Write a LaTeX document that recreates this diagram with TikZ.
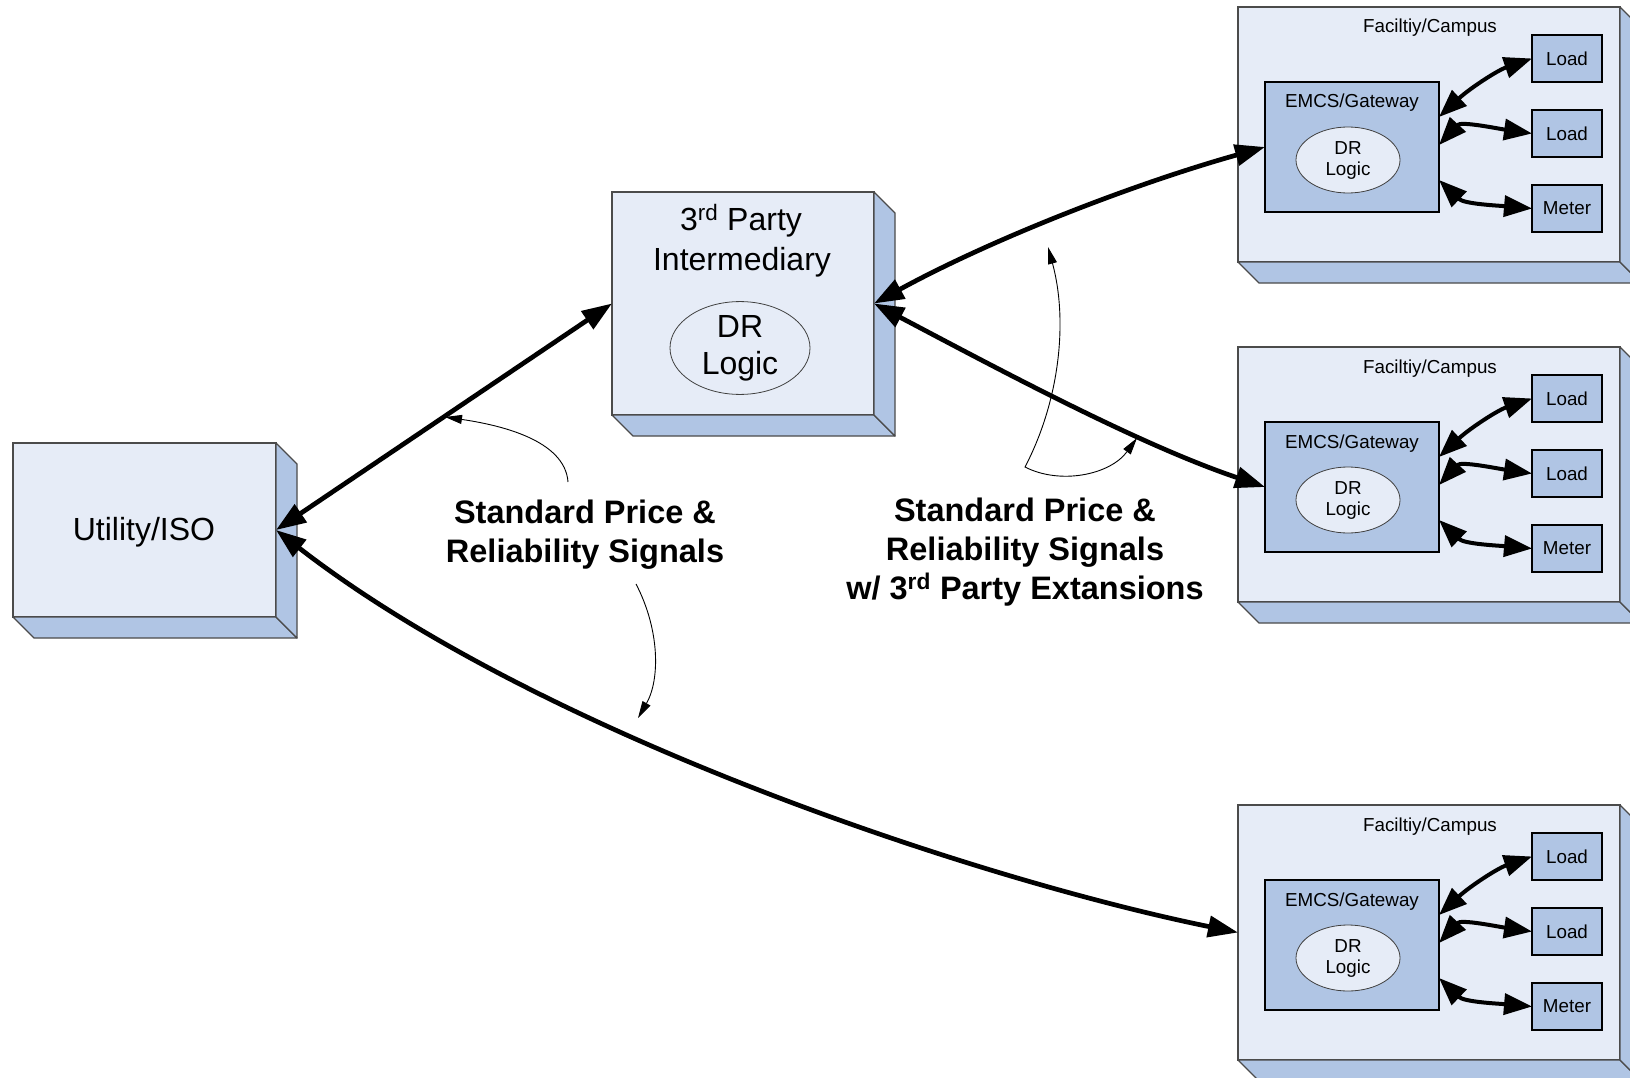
\documentclass[tikz,border=0pt]{standalone}
\usepackage{fontspec}
\setmainfont{Liberation Sans}
\usetikzlibrary{arrows.meta,calc,shapes.geometric}
\definecolor{frontc}{RGB}{230,236,247}
\definecolor{sidec}{RGB}{176,197,228}
\definecolor{edgec}{RGB}{75,75,75}
\newcommand{\boxside}[1]{%
  \filldraw[side] (#1.south west) -- (#1.south east) -- ($(#1.south east)+(21,21)$) -- ($(#1.south west)+(21,21)$) -- cycle;
  \filldraw[side] (#1.north east) -- ($(#1.north east)+(21,21)$) -- ($(#1.south east)+(21,21)$) -- (#1.south east) -- cycle;
}
\tikzset{
  face/.style={draw=edgec,line width=1.3pt,fill=frontc,inner sep=0pt,outer sep=0pt},
  side/.style={draw=edgec,line width=1.3pt,fill=sidec,line join=round},
  inbox/.style={draw=black,line width=2.8pt,fill=sidec,inner sep=0pt,outer sep=0pt},
  logic/.style={ellipse,draw=black!75,line width=0.8pt,fill=frontc,inner sep=0pt,align=center},
  big/.style={font=\fontsize{32}{37}\selectfont},
  small/.style={font=\fontsize{18.8}{21}\selectfont},
  lbl/.style={font=\fontsize{32.5}{39}\selectfont\bfseries},
  mainarr/.style={line width=4.7pt,{Triangle[length=30pt,width=21pt]}-{Triangle[length=30pt,width=21pt]}},
  inarr/.style={line width=4pt,{Triangle[length=28pt,width=21pt]}-{Triangle[length=28pt,width=21pt]}},
  ann/.style={line width=0.9pt,-{Triangle[length=17pt,width=9pt]}},
  annboth/.style={line width=0.9pt,{Triangle[length=17pt,width=9pt]}-{Triangle[length=17pt,width=9pt]}},
}
\begin{document}
\begin{tikzpicture}[x=1pt,y=-1pt]
\useasboundingbox (0,0) rectangle (1630,1078);
\clip (0,0) rectangle (1630,1078);
\fill[white] (0,0) rectangle (1630,1078);

% Utility/ISO
\node[face,minimum width=263pt,minimum height=174pt] (util) at (144.5,530) {};
\boxside{util}
\node[big,anchor=base] (utiltxt) at (144,540) {Utility/ISO};

% 3rd Party Intermediary
\node[face,minimum width=262pt,minimum height=223pt] (tp) at (743,303.5) {};
\boxside{tp}
\node[big,anchor=base] (tpa) at (741,230) {3\textsuperscript{rd} Party};
\node[big,anchor=base] (tpb) at (742,270) {Intermediary};
\node[logic,big,minimum width=140pt,minimum height=90pt] (tplogic) at (740,348) {DR\\Logic};

% Facilities
\foreach \o/\i in {0/1,340/2,798/3}{
  \node[face,minimum width=382pt,minimum height=255pt] (fac\i) at (1429,134.5+\o) {};
  \boxside{fac\i}
  \node[small,anchor=base] (factxt\i) at (1430,33+\o) {Faciltiy/Campus};
  \node[inbox,minimum width=174pt,minimum height=130pt] (emcs\i) at (1352,147+\o) {};
  \node[small,anchor=base] (emcstxt\i) at (1352,108+\o) {EMCS/Gateway};
  \node[logic,small,minimum width=104pt,minimum height=66pt] (logic\i) at (1348,160+\o) {DR\\Logic};
  \node[inbox,small,minimum width=70pt,minimum height=47pt] (loada\i) at (1567,58.5+\o) {Load};
  \node[inbox,small,minimum width=70pt,minimum height=47pt] (loadb\i) at (1567,133.5+\o) {Load};
  \node[inbox,small,minimum width=70pt,minimum height=47pt] (meter\i) at (1567,208.5+\o) {Meter};
  \draw[inarr] ($(emcs\i.east)+(0,-30)$) .. controls +(30,-28) and +(-35,12) .. (loada\i.west);
  \draw[inarr] ($(emcs\i.east)+(0,-2)$) .. controls +(22,-24) and +(-35,-5) .. (loadb\i.west);
  \draw[inarr] ($(emcs\i.east)+(0,33)$) .. controls +(25,24) and +(-35,-3) .. (meter\i.west);
}

% main connectors
\draw[mainarr] (util.east) -- (tp.west);
\draw[mainarr] (util.east) .. controls (540,735) and (980,880) .. (fac3.west);
\draw[mainarr] (tp.east) .. controls (990,240) and (1130,185) .. (emcs1.west);
\draw[mainarr] (tp.east) .. controls (1000,370) and (1140,445) .. (emcs2.west);

% annotation arrows
\coordinate (a1s) at (568,482);
\coordinate (a1e) at (445,417);
\draw[ann] (a1s) .. controls (565,440) and (500,425) .. (a1e);
\coordinate (a2s) at (636,584);
\coordinate (a2e) at (638,718);
\draw[ann] (a2s) .. controls (660,630) and (660,680) .. (a2e);
\coordinate (a3s) at (1048,247);
\coordinate (a3m) at (1025,467);
\coordinate (a3e) at (1137,438);
\draw[annboth] (a3s) .. controls (1068,320) and (1060,400) .. (a3m) .. controls (1060,485) and (1110,475) .. (a3e);

% labels
\node[lbl,anchor=base] (l1a) at (585,523) {Standard Price \&};
\node[lbl,anchor=base] (l1b) at (585,562) {Reliability Signals};
\node[lbl,anchor=base] (l2a) at (1025,521) {Standard Price \&};
\node[lbl,anchor=base] (l2b) at (1025,560) {Reliability Signals};
\node[lbl,anchor=base] (l2c) at (1025,599) {w/ 3\textsuperscript{rd} Party Extansions};
\end{tikzpicture}
\end{document}
